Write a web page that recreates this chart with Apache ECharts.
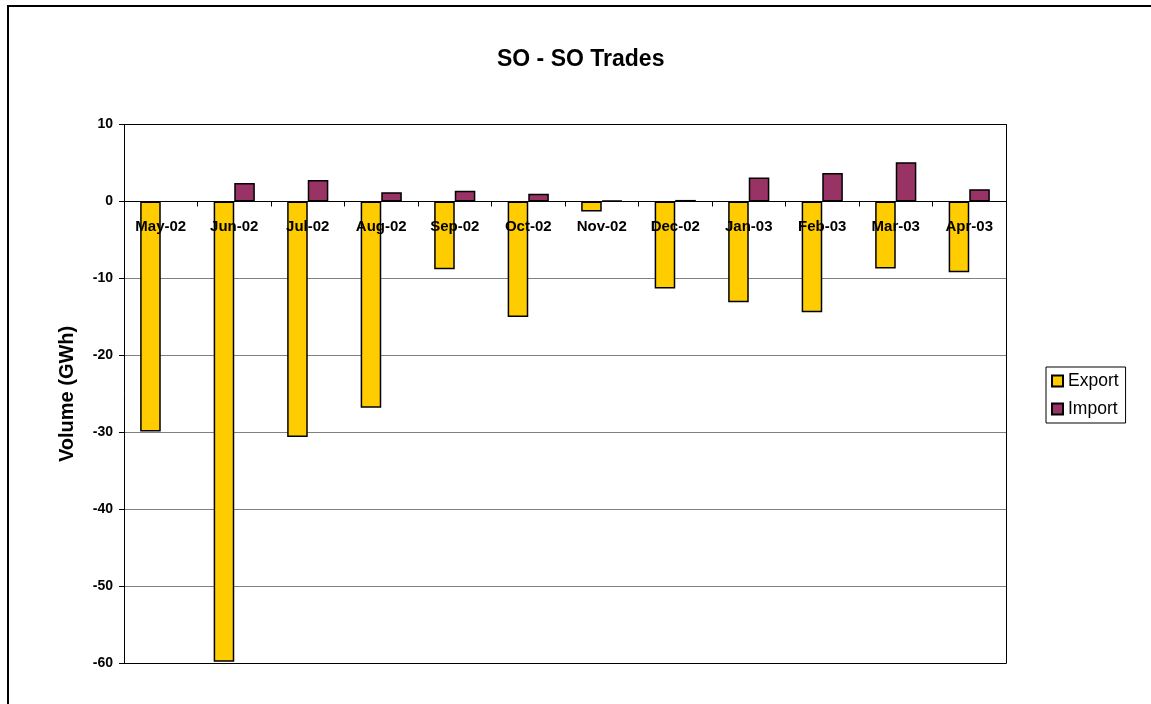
<!DOCTYPE html>
<html>
<head>
<meta charset="utf-8">
<script src="https://cdn.jsdelivr.net/npm/echarts@6/dist/echarts.min.js"></script>
<style>html,body{margin:0;padding:0;background:#fff;}#c{width:1151px;height:704px;}</style>
</head>
<body>
<div id="c"></div>
<script>
var categories = ['May-02','Jun-02','Jul-02','Aug-02','Sep-02','Oct-02','Nov-02','Dec-02','Jan-03','Feb-03','Mar-03','Apr-03'];
var exportVals = [-29.9, -59.8, -30.6, -26.8, -8.8, -15.0, -1.3, -11.3, -13.1, -14.4, -8.7, -9.2];
var importVals = ['-', 2.4, 2.8, 1.2, 1.4, 1.0, 0.1, 0.2, 3.1, 3.7, 5.1, 1.6];
var yTicks = { min: -60, max: 10, interval: 10 };

var FONT = 'Liberation Sans, Arial, sans-serif';
var G = {left: 124, right: 145, top: 124.5, bottom: 40.7};
var gridH = 704 - G.top - G.bottom;
var zeroOffset = gridH * (0 - yTicks.min) / (yTicks.max - yTicks.min);
var nLines = (yTicks.max - yTicks.min) / yTicks.interval + 1;
var splitColors = [];
for (var i = 0; i < nLines; i++) splitColors.push((i === 0 || i === nLines - 1) ? '#000' : '#808080');

var chart = echarts.init(document.getElementById('c'), null, {renderer: 'canvas'});
chart.setOption({
  animation: false,
  backgroundColor: '#fff',
  graphic: [{
    type: 'rect', shape: {x: 8, y: 6, width: 1400, height: 1000},
    style: {fill: 'none', stroke: '#000', lineWidth: 2}, silent: true, z: 100
  }],
  title: {
    text: 'SO - SO Trades', left: 497, top: 48, padding: 0,
    textStyle: {fontFamily: FONT, fontSize: 23, fontWeight: 'bold', color: '#000'}
  },
  legend: {
    orient: 'vertical', left: 1046, top: 367,
    padding: [5, 7, 5, 5], itemGap: 10,
    itemWidth: 11, itemHeight: 11, icon: 'rect',
    borderColor: '#000', borderWidth: 1,
    textStyle: {fontFamily: FONT, fontSize: 17.5, color: '#000'},
    data: ['Export', 'Import']
  },
  grid: {
    left: G.left, right: G.right, top: G.top, bottom: G.bottom,
    show: false
  },
  xAxis: {
    type: 'category', data: categories, z: 5,
    position: 'bottom', offset: -zeroOffset,
    axisLine: {onZero: false, lineStyle: {color: '#000', width: 1}},
    axisTick: {show: true, length: 5, lineStyle: {color: '#000'}},
    axisLabel: {fontFamily: FONT, fontSize: 15, fontWeight: 'bold', color: '#000', margin: 18, interval: 0},
    splitLine: {show: false}
  },
  yAxis: [{
    type: 'value', min: yTicks.min, max: yTicks.max, interval: yTicks.interval,
    name: 'Volume (GWh)', nameLocation: 'middle', nameGap: 47, nameRotate: 90,
    nameTextStyle: {fontFamily: FONT, fontSize: 20, fontWeight: 'bold', color: '#000'},
    axisLine: {show: true, lineStyle: {color: '#000', width: 1}},
    axisTick: {show: true, length: 5, lineStyle: {color: '#000'}},
    axisLabel: {fontFamily: FONT, fontSize: 14, fontWeight: 'bold', color: '#000', margin: 11},
    splitLine: {show: true, lineStyle: {color: splitColors, width: 1}}
  }, {
    type: 'value', position: 'right', min: yTicks.min, max: yTicks.max, interval: yTicks.interval,
    axisLine: {show: true, lineStyle: {color: '#000', width: 1}},
    axisTick: {show: false}, axisLabel: {show: false}, splitLine: {show: false}
  }],
  series: [
    {
      name: 'Export', type: 'bar', data: exportVals,
      barGap: '0%', barCategoryGap: '44%',
      itemStyle: {color: '#FFCC00', borderColor: '#000', borderWidth: 1.5}
    },
    {
      name: 'Import', type: 'bar', data: importVals,
      barGap: '0%', barCategoryGap: '44%',
      itemStyle: {color: '#993366', borderColor: '#000', borderWidth: 1.5}
    }
  ]
});
</script>
</body>
</html>
